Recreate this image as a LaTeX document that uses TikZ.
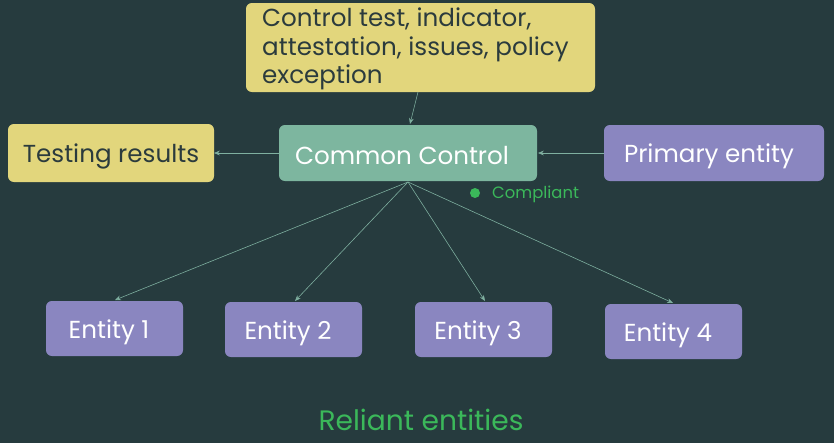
\documentclass[tikz,border=0pt]{standalone}
\usepackage{fontspec}
\setmainfont{Poppins}
\usetikzlibrary{arrows.meta}
\definecolor{bg}{HTML}{263B3E}
\definecolor{yel}{HTML}{E2D67C}
\definecolor{teal}{HTML}{7DB69F}
\definecolor{purp}{HTML}{8A86C0}
\definecolor{dk}{HTML}{2B3B3D}
\definecolor{grn}{HTML}{3BB85A}
\definecolor{ln}{HTML}{7FB0A0}
\begin{document}
\begin{tikzpicture}[x=0.03cm,y=-0.03cm,
 box/.style={rounded corners=5pt,inner sep=0pt},
 lbl/.style={font=\fontsize{21}{25}\selectfont},
 arr/.style={draw=ln,line width=0.5pt,-{Stealth[length=5pt,width=4pt]}}]
\fill[bg] (0,0) rectangle (834,443);
\useasboundingbox (0,0) rectangle (834,443);
\fill[yel,box] (246,3) rectangle (595,92);
\node[text=dk,anchor=north west,align=left,inner sep=0pt,font=\fontsize{21}{24.3}\selectfont] (top) at (262,8) {Control test, indicator,\\attestation, issues, policy\\exception};
\coordinate (tb) at (418,92);
\fill[yel,box] (8,124) rectangle (214,182);
\node[lbl,text=dk] (tr) at (111,156) {Testing results};
\coordinate (trr) at (214,153);
\fill[teal,box] (279,125) rectangle (537,181);
\node[lbl,text=white] (cc) at (402,156) {Common Control};
\coordinate (cct) at (410,124);
\coordinate (ccl) at (279,153);
\coordinate (ccr) at (538,153);
\coordinate (ccb) at (408,182);
\fill[purp,box] (604,125) rectangle (824,181);
\node[lbl,text=white] (pe) at (709,156) {Primary entity};
\coordinate (pel) at (604,153);
\foreach \i/\x/\y in {1/46/301,2/225/302,3/415/302,4/605/304}{
 \fill[purp,box] (\x,\y) rectangle (\x+137,\y+55);
 \node[lbl,text=white] (e\i) at (\x+63,\y+31) {Entity \i};
}
\coordinate (t1) at (115,300);
\coordinate (t2) at (295,301);
\coordinate (t3) at (485,301);
\coordinate (t4) at (673,303);
\draw[arr] (tb) -- (cct);
\draw[arr] (ccl) -- (trr);
\draw[arr] (pel) -- (ccr);
\foreach \i in {1,...,4} \draw[arr] (ccb) -- (t\i);
\fill[grn] (475,193) circle (5);
\node[text=grn,anchor=west,font=\fontsize{14}{16}\selectfont,inner sep=0pt] (cp) at (492,194) {Compliant};
\node[text=grn,font=\fontsize{24}{28}\selectfont] (re) at (421,420) {Reliant entities};
\end{tikzpicture}
\end{document}
